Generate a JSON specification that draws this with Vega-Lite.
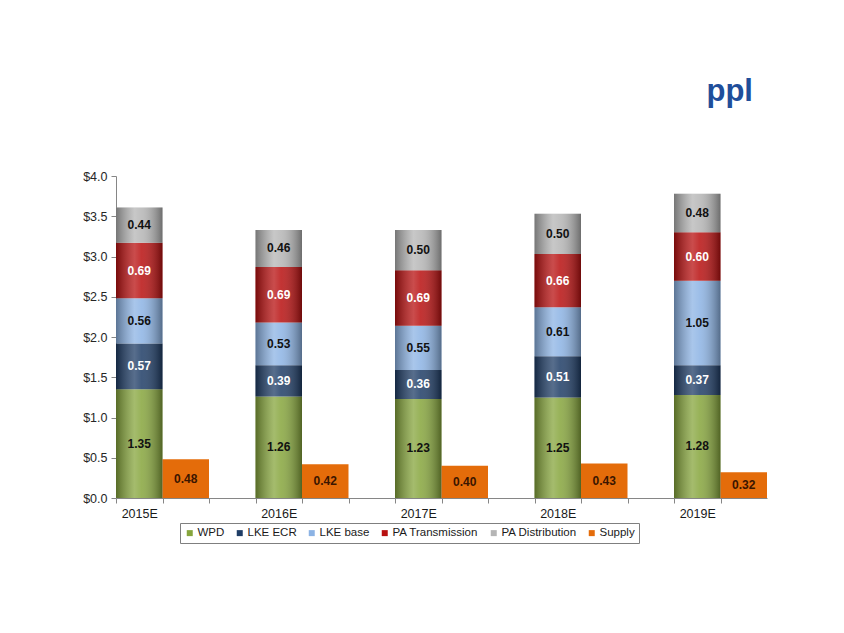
{
  "$schema": "https://vega.github.io/schema/vega-lite/v6.json",
  "autosize": {"type": "none"},
  "padding": {"left": 116, "top": 176, "right": 77, "bottom": 135},
  "width": 651,
  "height": 322,
  "background": "white",
  "title": {
    "text": "ppl",
    "anchor": "end",
    "frame": "group",
    "font": "Liberation Sans",
    "fontSize": 31,
    "fontWeight": "bold",
    "color": "#1f4e9a",
    "dx": -14,
    "offset": 62
  },
  "data": {
    "values": [
      {"year": "2015E", "slot": "2015E", "series": "WPD", "ord": 1, "value": 1.35},
      {"year": "2015E", "slot": "2015E", "series": "LKE ECR", "ord": 2, "value": 0.57},
      {"year": "2015E", "slot": "2015E", "series": "LKE base", "ord": 3, "value": 0.56},
      {"year": "2015E", "slot": "2015E", "series": "PA Transmission", "ord": 4, "value": 0.69},
      {"year": "2015E", "slot": "2015E", "series": "PA Distribution", "ord": 5, "value": 0.44},
      {"year": "2015E", "slot": "2015E S", "series": "Supply", "ord": 6, "value": 0.48},
      {"year": "2016E", "slot": "2016E", "series": "WPD", "ord": 1, "value": 1.26},
      {"year": "2016E", "slot": "2016E", "series": "LKE ECR", "ord": 2, "value": 0.39},
      {"year": "2016E", "slot": "2016E", "series": "LKE base", "ord": 3, "value": 0.53},
      {"year": "2016E", "slot": "2016E", "series": "PA Transmission", "ord": 4, "value": 0.69},
      {"year": "2016E", "slot": "2016E", "series": "PA Distribution", "ord": 5, "value": 0.46},
      {"year": "2016E", "slot": "2016E S", "series": "Supply", "ord": 6, "value": 0.42},
      {"year": "2017E", "slot": "2017E", "series": "WPD", "ord": 1, "value": 1.23},
      {"year": "2017E", "slot": "2017E", "series": "LKE ECR", "ord": 2, "value": 0.36},
      {"year": "2017E", "slot": "2017E", "series": "LKE base", "ord": 3, "value": 0.55},
      {"year": "2017E", "slot": "2017E", "series": "PA Transmission", "ord": 4, "value": 0.69},
      {"year": "2017E", "slot": "2017E", "series": "PA Distribution", "ord": 5, "value": 0.50},
      {"year": "2017E", "slot": "2017E S", "series": "Supply", "ord": 6, "value": 0.40},
      {"year": "2018E", "slot": "2018E", "series": "WPD", "ord": 1, "value": 1.25},
      {"year": "2018E", "slot": "2018E", "series": "LKE ECR", "ord": 2, "value": 0.51},
      {"year": "2018E", "slot": "2018E", "series": "LKE base", "ord": 3, "value": 0.61},
      {"year": "2018E", "slot": "2018E", "series": "PA Transmission", "ord": 4, "value": 0.66},
      {"year": "2018E", "slot": "2018E", "series": "PA Distribution", "ord": 5, "value": 0.50},
      {"year": "2018E", "slot": "2018E S", "series": "Supply", "ord": 6, "value": 0.43},
      {"year": "2019E", "slot": "2019E", "series": "WPD", "ord": 1, "value": 1.28},
      {"year": "2019E", "slot": "2019E", "series": "LKE ECR", "ord": 2, "value": 0.37},
      {"year": "2019E", "slot": "2019E", "series": "LKE base", "ord": 3, "value": 1.05},
      {"year": "2019E", "slot": "2019E", "series": "PA Transmission", "ord": 4, "value": 0.60},
      {"year": "2019E", "slot": "2019E", "series": "PA Distribution", "ord": 5, "value": 0.48},
      {"year": "2019E", "slot": "2019E S", "series": "Supply", "ord": 6, "value": 0.32}
    ]
  },
  "transform": [
    {"stack": "value", "groupby": ["slot"], "sort": [{"field": "ord", "order": "ascending"}], "as": ["v0", "v1"]},
    {"calculate": "(datum.v0 + datum.v1) / 2", "as": "mid"}
  ],
  "encoding": {
    "x": {
      "field": "slot",
      "type": "nominal",
      "sort": null,
      "scale": {
        "domain": ["2015E", "2015E S", "G1", "2016E", "2016E S", "G2", "2017E", "2017E S", "G3", "2018E", "2018E S", "G4", "2019E", "2019E S"],
        "paddingInner": 0,
        "paddingOuter": 0
      },
      "axis": {
        "title": null,
        "labelAngle": 0,
        "tickOffset": -23.25,
        "labelOffset": 23.25,
        "labelExpr": "length(datum.value) == 5 ? datum.value : ''",
        "domainColor": "#868686",
        "tickColor": "#868686",
        "tickSize": 5,
        "labelFontSize": 12.5,
        "labelColor": "#1a1a1a",
        "labelPadding": 4
      }
    }
  },
  "layer": [
    {
      "mark": {"type": "bar"},
      "encoding": {
        "y": {
          "field": "v0",
          "type": "quantitative",
          "scale": {"domain": [0, 4], "nice": false},
          "axis": {
            "title": null,
            "values": [0, 0.5, 1, 1.5, 2, 2.5, 3, 3.5, 4],
            "labelExpr": "'$' + format(datum.value, '.1f')",
            "grid": false,
            "domainColor": "#868686",
            "tickColor": "#868686",
            "tickSize": 5,
            "labelFontSize": 12.5,
            "labelColor": "#262626",
            "labelPadding": 4
          }
        },
        "y2": {"field": "v1"},
        "color": {
          "field": "series",
          "type": "nominal",
          "scale": {
            "domain": ["WPD", "LKE ECR", "LKE base", "PA Transmission", "PA Distribution", "Supply"],
            "range": ["#86a53c", "#1f3d66", "#8cb3e4", "#b81010", "#b5b5b5", "#e46c0a"]
          },
          "legend": {
            "title": null,
            "orient": "none",
            "legendX": 64,
            "legendY": 347,
            "direction": "horizontal",
            "symbolType": "square",
            "symbolSize": 36,
            "labelFontSize": 11.5,
            "labelFont": "Liberation Sans",
            "labelColor": "#1a1a1a",
            "labelOffset": 2,
            "columnPadding": 9,
            "padding": 4,
            "strokeColor": "#7f7f7f",
            "fillColor": "white"
          }
        }
      }
    },
    {
      "transform": [{"filter": "datum.series !== 'Supply'"}],
      "mark": {
        "type": "bar",
        "fill": {
          "gradient": "linear",
          "x1": 0, "y1": 0, "x2": 1, "y2": 0,
          "stops": [
            {"offset": 0, "color": "rgba(0,0,0,0.35)"},
            {"offset": 0.4, "color": "rgba(255,255,255,0.25)"},
            {"offset": 0.55, "color": "rgba(255,255,255,0.15)"},
            {"offset": 1, "color": "rgba(0,0,0,0.40)"}
          ]
        }
      },
      "encoding": {
        "y": {"field": "v0", "type": "quantitative"},
        "y2": {"field": "v1"}
      }
    },
    {
      "mark": {"type": "text", "font": "Liberation Sans", "fontSize": 12, "fontWeight": "bold"},
      "encoding": {
        "y": {"field": "mid", "type": "quantitative"},
        "text": {"field": "value", "type": "quantitative", "format": ".2f"},
        "color": {
          "condition": [
            {"test": "datum.series === 'LKE ECR' || datum.series === 'PA Transmission'", "value": "white"},
            {"test": "datum.series === 'Supply'", "value": "#3a1500"}
          ],
          "value": "#111111"
        }
      }
    }
  ],
  "config": {
    "view": {"stroke": null},
    "font": "Liberation Sans"
  }
}
